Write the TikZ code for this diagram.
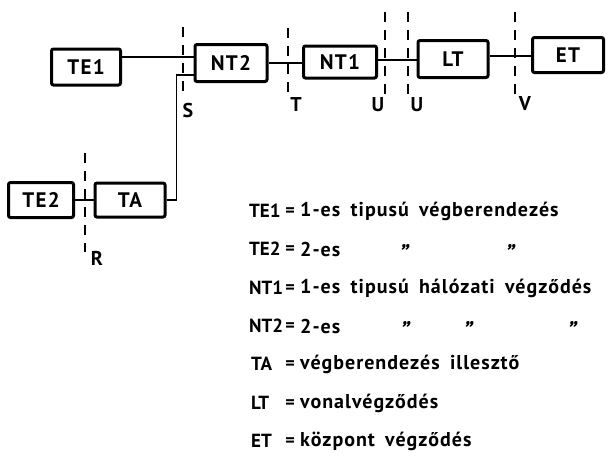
\documentclass[tikz,border=0pt]{standalone}
\usepackage{fontspec}
\setmainfont{PT Sans}
\newfontfamily\widefont{PT Sans}[LetterSpace=5,WordSpace=1.7]
\newfontfamily\boxfont{PT Sans}[LetterSpace=6]
\begin{document}
\begin{tikzpicture}[x=1pt,y=-1pt,
  blk/.style={draw,line width=3pt,rounded corners=2pt,minimum height=35pt,inner sep=0pt,
    font=\boxfont\fontsize{21}{22}\selectfont\bfseries},
  wire/.style={line width=1.6pt},
  refl/.style={line width=1.6pt,dash pattern=on 10pt off 8pt},
  ptlbl/.style={inner sep=0pt,font=\fontsize{20}{22}\selectfont\bfseries},
  key/.style={anchor=west,inner sep=0pt,font=\fontsize{19}{22}\selectfont\bfseries},
  lgd/.style={anchor=west,inner sep=0pt,font=\widefont\fontsize{20}{22}\selectfont\bfseries},
  eqs/.style={inner sep=0pt,font=\fontsize{18}{22}\selectfont\bfseries},
  ditto/.style={inner sep=0pt,font=\fontsize{24}{22}\selectfont\bfseries\itshape}]
\useasboundingbox (0,0) rectangle (613,475);

% blocks
\node[blk,minimum width=69pt,minimum height=36pt] (TE1) at (86,67) {TE1};
\node[blk,minimum width=72pt,minimum height=37pt] (NT2) at (231,63) {NT2};
\node[blk,minimum width=73pt,minimum height=32pt] (NT1) at (340,62) {NT1};
\node[blk,minimum width=70pt,minimum height=37pt] (LT) at (453,59) {LT};
\node[blk,minimum width=71pt,minimum height=35pt] (ET) at (568,55) {ET};
\node[blk,minimum width=65pt,minimum height=35pt] (TE2) at (41,200) {TE2};
\node[blk,minimum width=70pt,minimum height=34pt] (TA) at (130,200) {TA};

% wires
\draw[wire] (TE1.east |- 0,57) -- (NT2.west |- 0,57);
\draw[wire] (TA.east) -- ++(10,0) |- (NT2.west |- 0,75);
\draw[wire] (TE2) -- (TA);
\draw[wire] (NT2.east) -- (NT2.east -| NT1.west);
\draw[wire] (NT1.east |- 0,60) -- (LT.west |- 0,60);
\draw[wire] (LT.east |- 0,56) -- (ET.west |- 0,56);

% reference points
\draw[refl] (183,27) -- (183,97);
\node[ptlbl] (S) at (188,110) {S};
\draw[refl] (288,28) -- (288,97);
\node[ptlbl] (T) at (296,104) {T};
\draw[refl] (385,12) -- (385,97);
\node[ptlbl] (U1) at (378,105) {U};
\draw[refl] (408,12) -- (408,97);
\node[ptlbl] (U2) at (417,105) {U};
\draw[refl] (515,12) -- (515,97);
\node[ptlbl] (V) at (525,104) {V};
\draw[refl] (85,153) -- (85,252);
\node[ptlbl] (R) at (97,258) {R};

% legend
\node[key] (k1) at (249,211) {TE1};
\node[eqs] at (290,212) {=};
\node[lgd] at (300,211) {1-es tipusú végberendezés};

\node[key] (k2) at (249,249) {TE2};
\node[eqs] at (290,250) {=};
\node[lgd] at (300,249) {2-es};
\node[ditto] at (404,253) {”};
\node[ditto] at (510,253) {”};

\node[key] (k3) at (249,288) {NT1};
\node[eqs] at (290,289) {=};
\node[lgd] at (300,288) {1-es tipusú hálózati végződés};

\node[key] (k4) at (249,326) {NT2};
\node[eqs] at (290,327) {=};
\node[lgd] at (300,326) {2-es};
\node[ditto] at (405,330) {”};
\node[ditto] at (468,330) {”};
\node[ditto] at (572,330) {”};

\node[key] (k5) at (251,364) {TA};
\node[eqs] at (290,365) {=};
\node[lgd] at (300,364) {végberendezés illesztő};

\node[key] (k6) at (251,403) {LT};
\node[eqs] at (290,404) {=};
\node[lgd] at (300,403) {vonalvégződés};

\node[key] (k7) at (251,441) {ET};
\node[eqs] at (290,442) {=};
\node[lgd] at (300,441) {központ végződés};
\end{tikzpicture}
\end{document}
